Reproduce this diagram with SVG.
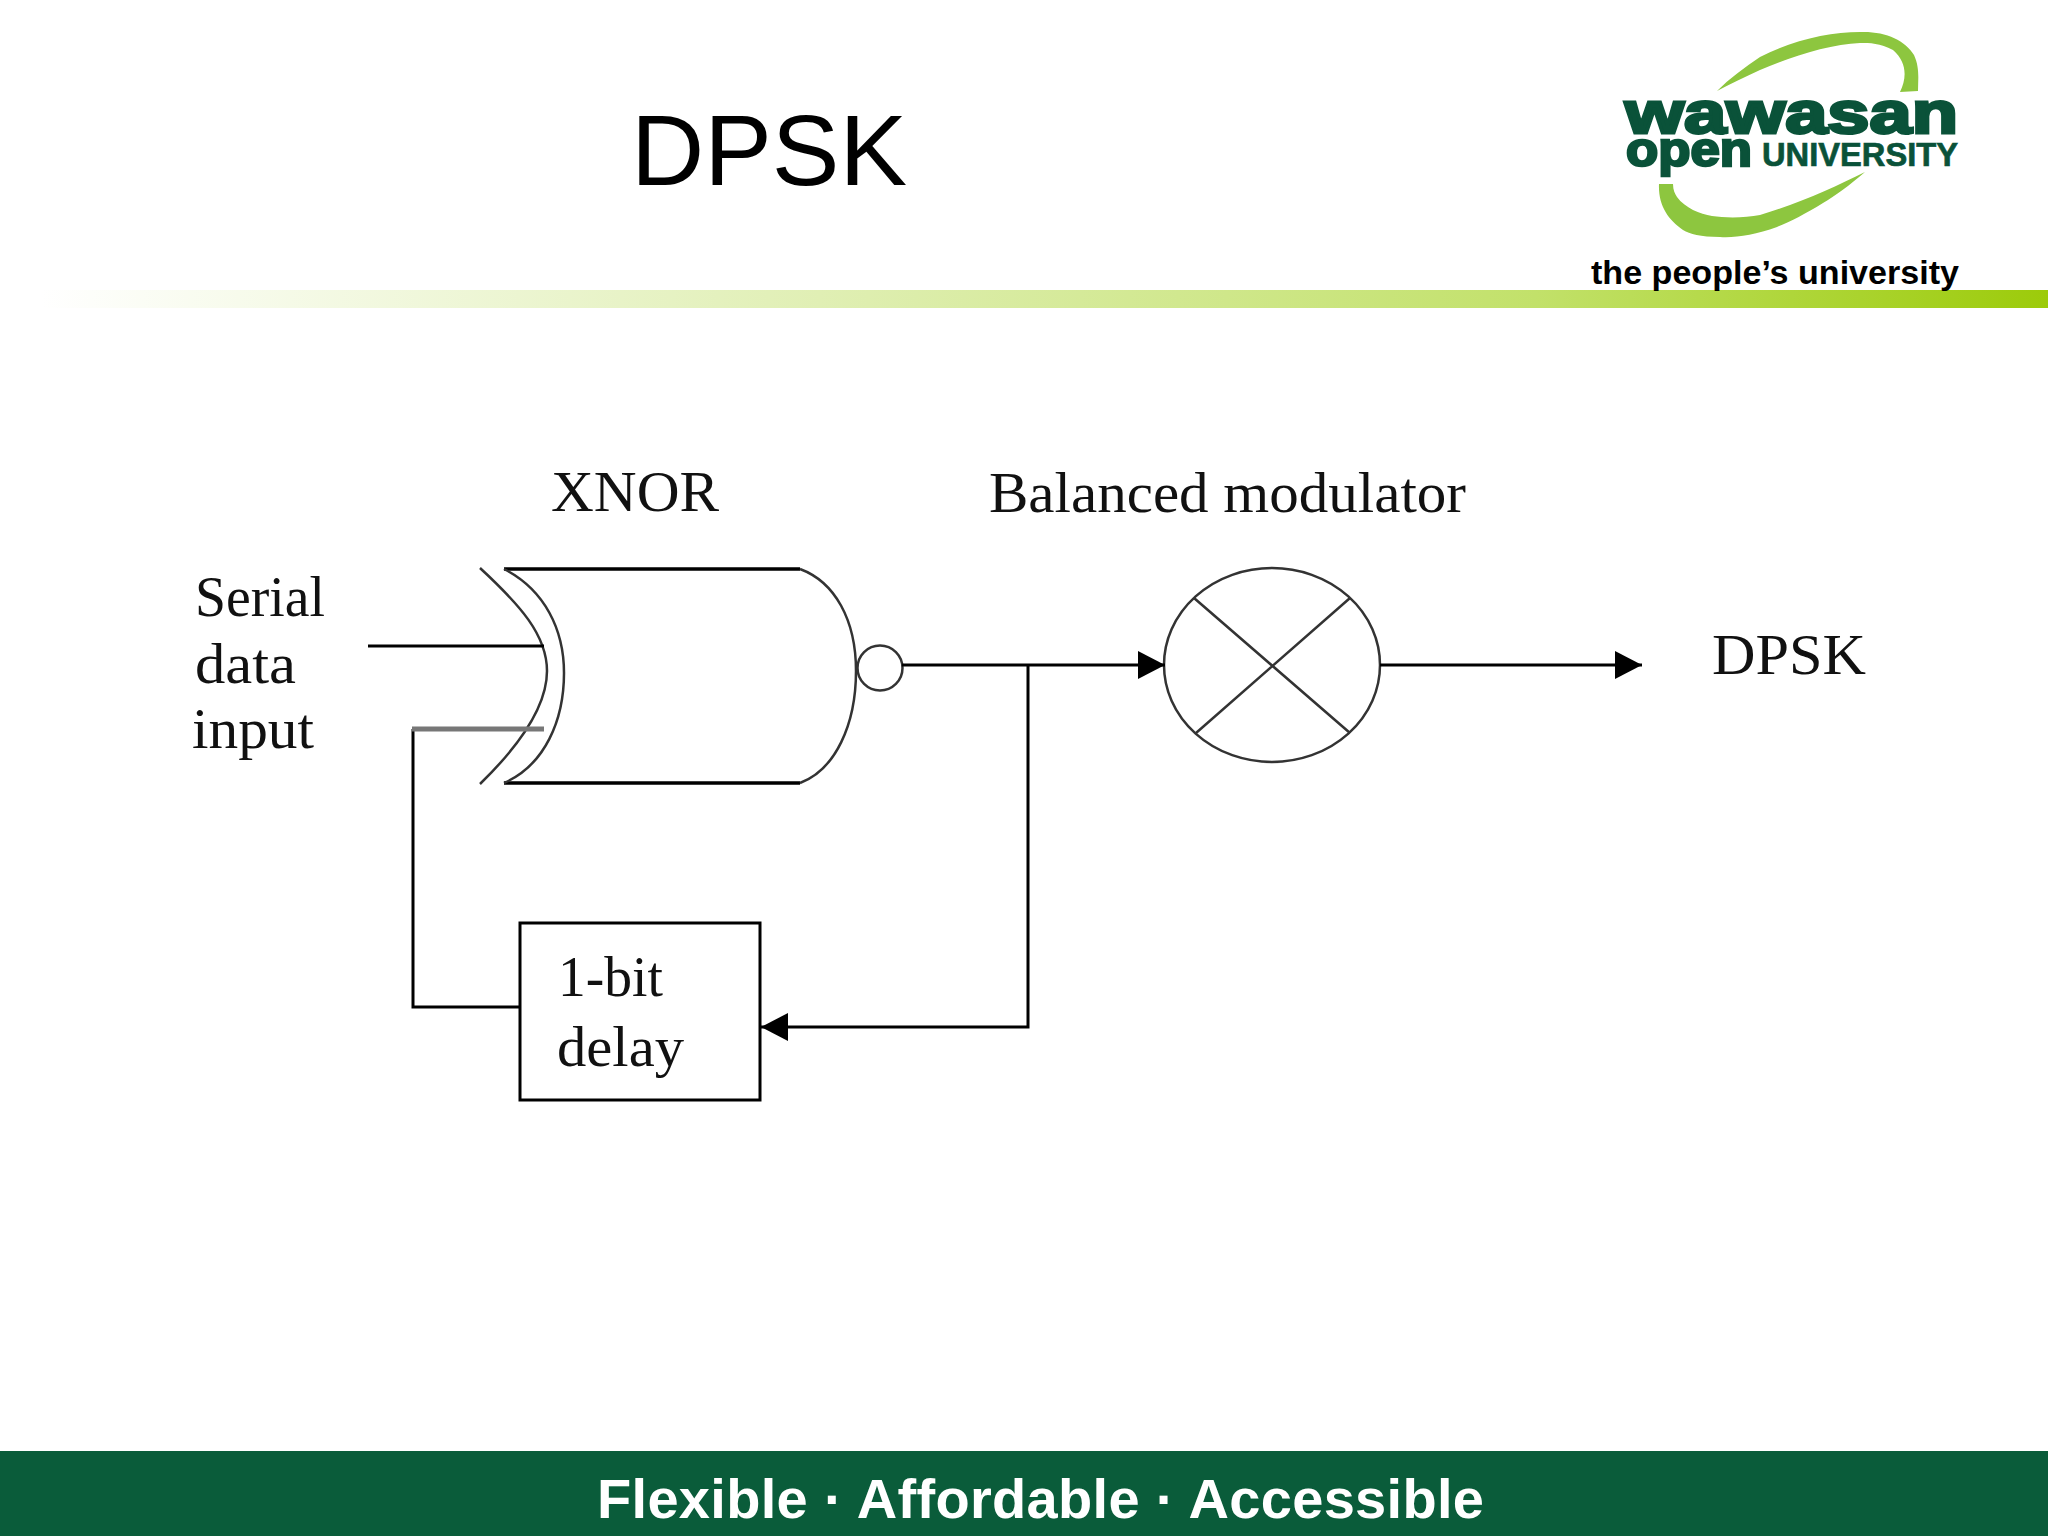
<svg xmlns="http://www.w3.org/2000/svg" width="2048" height="1536" viewBox="0 0 2048 1536">
<defs>
<linearGradient id="bar" x1="0" x2="1" y1="0" y2="0"><stop offset="0.02" stop-color="#ffffff"/><stop offset="0.4" stop-color="#e0efb4"/><stop offset="0.75" stop-color="#c2e16a"/><stop offset="1" stop-color="#9ccb0a"/></linearGradient>
<marker id="arrow" markerUnits="userSpaceOnUse" markerWidth="32" markerHeight="30" refX="29" refY="15" orient="auto"><path d="M2 1 L29 15 L2 29 Z" fill="#000"/></marker>
</defs>
<style>
.wire{fill:none;stroke:#000;stroke-width:3}
.gate{fill:none;stroke:#333;stroke-width:2.5}
.bold{stroke:#000;stroke-width:3.5;fill:none}
.s{font-family:"Liberation Serif","Times New Roman",serif;font-size:58px;fill:#111}
.h{font-family:"Liberation Sans",Arial,sans-serif}
</style>
<rect width="2048" height="1536" fill="#fff"/>
<g id="header">
<rect x="0" y="290" width="2048" height="18" fill="url(#bar)"/>
<text class="h" x="631" y="185" font-size="101" fill="#000" textLength="276" lengthAdjust="spacingAndGlyphs">DPSK</text>
</g>
<g id="logo">
<path d="M1717 91 C1730 78 1745 67 1760 57 C1793 40 1830 32 1860 32 C1885 31 1905 40 1914 55 C1920 68 1918 80 1918 91 L1900 92 C1907 78 1907 62 1893 50 C1880 43 1870 43 1860 43 C1830 44 1790 57 1760 70 C1745 77 1730 84 1717 91 Z" fill="#8dc63f"/>
<path d="M1865 172 C1850 185 1835 196 1823 203 C1805 214 1790 222 1777 227 C1755 235 1735 238 1720 237 C1700 237 1690 234 1683 230 C1668 220 1658 205 1659 184 L1673 184 C1673 190 1675 194 1677 197 C1685 208 1700 214 1712 216 C1725 218 1745 218 1760 215 C1800 203 1835 187 1865 172 Z" fill="#8dc63f"/>
<text class="h" x="1625" y="133" font-size="60" font-weight="700" fill="#0a5239" stroke="#0a5239" stroke-width="3" textLength="333" lengthAdjust="spacingAndGlyphs">wawasan</text>
<text class="h" x="1626" y="166" font-size="48" font-weight="700" fill="#0a5239" stroke="#0a5239" stroke-width="2.5" textLength="126" lengthAdjust="spacingAndGlyphs">open</text>
<text class="h" x="1762" y="166" font-size="34" font-weight="700" fill="#0a5239" stroke="#0a5239" stroke-width="0.7" textLength="196" lengthAdjust="spacingAndGlyphs">UNIVERSITY</text>
<text class="h" x="1591" y="284" font-size="33" font-weight="700" fill="#000" textLength="368" lengthAdjust="spacingAndGlyphs">the people’s university</text>
</g>
<g id="xnor">
<path class="bold" d="M504 569 H800 M504 783 H800"/>
<path class="gate" d="M800 569 C835 582 856 620 856 671 C856 725 835 770 800 783"/>
<path class="gate" d="M504 569 C545 590 564 630 564 673 C564 720 545 765 504 783"/>
<path class="gate" d="M480 568 C520 605 547 635 547 671 C547 705 520 745 480 784"/>
<circle cx="880" cy="668" r="22.5" fill="#fff" stroke="#333" stroke-width="2.5"/>
<text class="s" x="551" y="511" textLength="168" lengthAdjust="spacingAndGlyphs">XNOR</text>
</g>
<g id="modulator">
<ellipse cx="1272" cy="665" rx="108" ry="97" fill="none" stroke="#333" stroke-width="2.5"/>
<path class="gate" d="M1194 598 L1350 733 M1350 598 L1196 733"/>
<text class="s" x="989" y="512" textLength="477" lengthAdjust="spacingAndGlyphs">Balanced modulator</text>
</g>
<g id="delay">
<rect x="520" y="923" width="240" height="177" fill="none" stroke="#000" stroke-width="3"/>
<text class="s" x="558" y="996" textLength="105" lengthAdjust="spacingAndGlyphs">1-bit</text>
<text class="s" x="557" y="1066" textLength="127" lengthAdjust="spacingAndGlyphs">delay</text>
</g>
<g id="labels">
<text class="s" x="195" y="616" textLength="130" lengthAdjust="spacingAndGlyphs">Serial</text>
<text class="s" x="195" y="683" textLength="101" lengthAdjust="spacingAndGlyphs">data</text>
<text class="s" x="192" y="748" textLength="122" lengthAdjust="spacingAndGlyphs">input</text>
<text class="s" x="1712" y="674" textLength="154" lengthAdjust="spacingAndGlyphs">DPSK</text>
</g>
<g id="connectors">
<path class="wire" d="M368 646 H544"/>
<path class="wire" d="M520 1007 H413 V729"/>
<path d="M412 729 H544" fill="none" stroke="#777" stroke-width="5"/>
<path class="wire" d="M902 665 H1165" marker-end="url(#arrow)"/>
<path class="wire" d="M1380 665 H1642" marker-end="url(#arrow)"/>
<path class="wire" d="M1028 665 V1027 H761" marker-end="url(#arrow)"/>
</g>
<g id="footer">
<rect x="0" y="1451" width="2048" height="85" fill="#0a5c3a"/>
<text class="h" x="597" y="1518" font-size="56" font-weight="700" fill="#fff" textLength="887" lengthAdjust="spacing">Flexible · Affordable · Accessible</text>
</g>
</svg>
